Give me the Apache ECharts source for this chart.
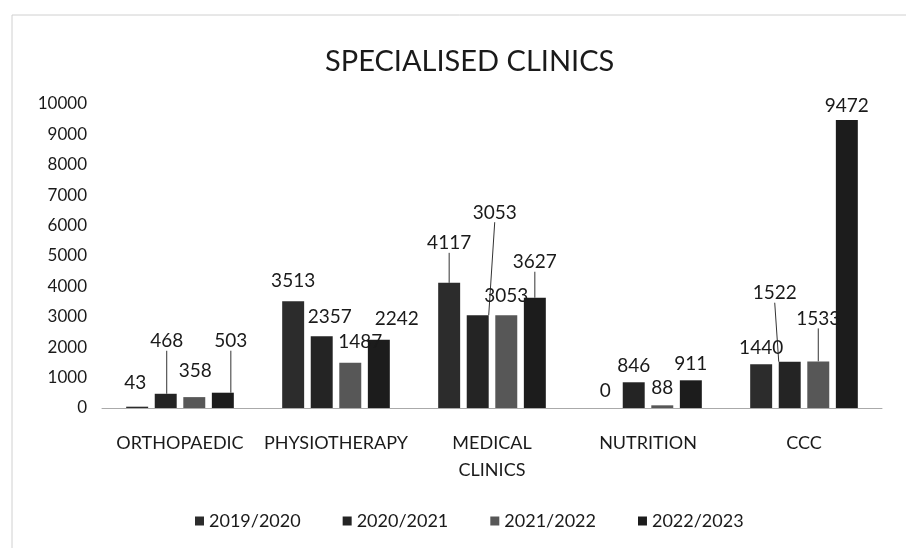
<!DOCTYPE html>
<html>
<head>
<meta charset="utf-8">
<script src="https://cdn.jsdelivr.net/npm/echarts@6/dist/echarts.min.js"></script>
<style>html,body{margin:0;padding:0;background:#fff;}#c{width:906px;height:548px;}</style>
</head>
<body>
<div id="c"></div>
<script>
const title = 'SPECIALISED CLINICS';
const categories = ['ORTHOPAEDIC', 'PHYSIOTHERAPY', 'MEDICAL CLINICS', 'NUTRITION', 'CCC'];
const seriesNames = ['2019/2020', '2020/2021', '2021/2022', '2022/2023'];
const v2019 = [43, 3513, 4117, 0, 1440];
const v2020 = [468, 2357, 3053, 846, 1522];
const v2021 = [358, 1487, 3053, 88, 1533];
const v2022 = [503, 2242, 3627, 911, 9472];
const yTicks = [0, 10000, 1000]; // min, max, interval

// label placement (style only): [dx, dy, showLeaderLine]
const labelPlacement = [
  [[-2, -9, 0], [0, -6, 0], [0, -25, 1], [0, -3, 0], [0, -2, 0]],
  [[1, -38, 1], [8, -5, 0], [17, -88, 1], [0, -2, 0], [-15, -54, 1]],
  [[1, -12, 0], [10, -6, 0], [0, -5, 0], [0, -3, 0], [0, -28, 1]],
  [[8, -37, 1], [18, -6, 0], [0, -21, 1], [0, -2, 0], [0, 0, 0]]
];
const colors = ['#2c2c2c', '#242424', '#575757', '#1c1c1c'];
const values = [v2019, v2020, v2021, v2022];
const font = 'Lato, "Open Sans", sans-serif';

const chart = echarts.init(document.getElementById('c'));
chart.setOption({
  backgroundColor: '#ffffff',
  animation: false,
  title: {
    text: title, left: 320, top: 42,
    textStyle: { fontFamily: font, fontSize: 29, fontWeight: 'normal', color: '#1a1a1a' }
  },
  graphic: [{
    type: 'rect', shape: { x: 12, y: 15, width: 920, height: 560 },
    style: { fill: 'none', stroke: '#d0d0d0', lineWidth: 1 }, silent: true, z: -1
  }],
  legend: {
    bottom: 13, left: 190, itemWidth: 9, itemHeight: 9, itemGap: 42, icon: 'rect',
    textStyle: { fontFamily: font, fontSize: 18, color: '#1a1a1a' },
    data: seriesNames
  },
  grid: { left: 102, right: 24, top: 104, bottom: 140, containLabel: false },
  xAxis: {
    type: 'category', data: categories,
    axisLine: { lineStyle: { color: '#aaaaaa', width: 1 } },
    axisTick: { show: false },
    axisLabel: {
      interval: 0,
      fontFamily: font, fontSize: 18, color: '#1a1a1a', margin: 22, lineHeight: 27,
      formatter: v => v.split(' ').join('\n')
    }
  },
  yAxis: {
    type: 'value', min: yTicks[0], max: yTicks[1], interval: yTicks[2],
    axisLine: { show: false }, axisTick: { show: false }, splitLine: { show: false },
    axisLabel: { fontFamily: font, fontSize: 17, color: '#1a1a1a', margin: 15, formatter: v => String(v) }
  },
  series: values.map((arr, si) => ({
    name: seriesNames[si], type: 'bar',
    barGap: '30%', barCategoryGap: '31%',
    itemStyle: { color: colors[si] },
    label: {
      show: true, position: 'top', distance: 5,
      fontFamily: font, fontSize: 19, color: '#1a1a1a'
    },
    labelLine: { show: false, lineStyle: { color: '#333', width: 1 } },
    data: arr.map((v, di) => ({
      value: v,
      labelLine: { show: !!labelPlacement[si][di][2], lineStyle: { color: '#333', width: 1 } }
    }))
  })),
  labelLayout: function (p) {
    const lp = labelPlacement[p.seriesIndex][p.dataIndex];
    return { dx: lp[0], dy: lp[1] };
  }
});
</script>
</body>
</html>
